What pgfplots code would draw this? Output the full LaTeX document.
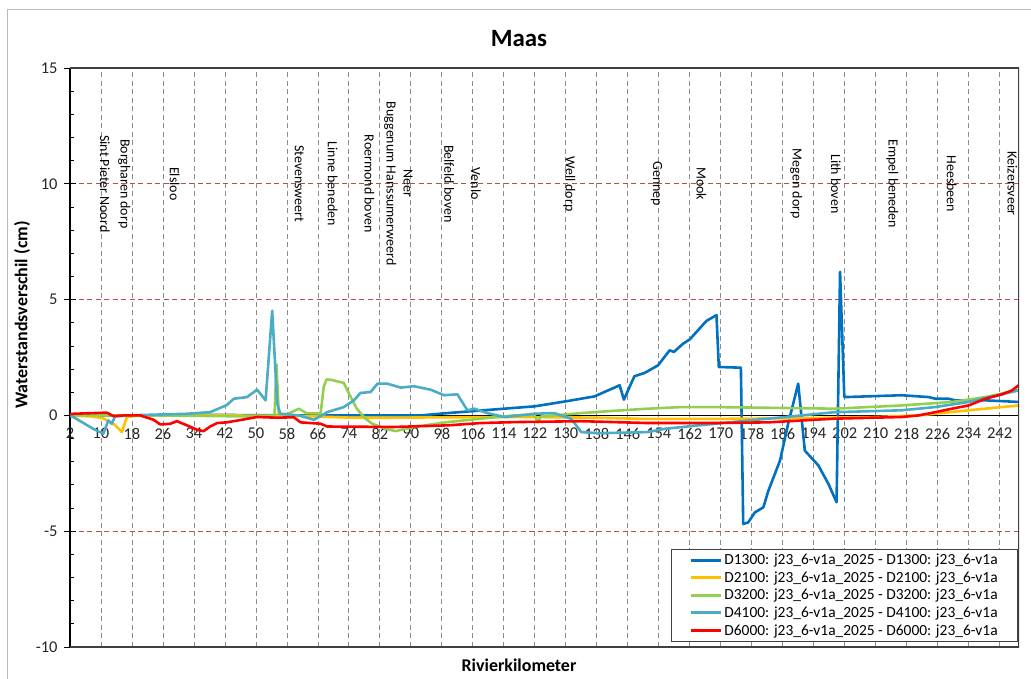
\documentclass[border=0pt]{standalone}
\usepackage{pgfplots}
\pgfplotsset{compat=1.18}
\usepackage{fontspec}
\setmainfont{Carlito}

\definecolor{cD1300}{HTML}{0070C0}
\definecolor{cD2100}{HTML}{FFC000}
\definecolor{cD3200}{HTML}{92D050}
\definecolor{cD4100}{HTML}{4BACC6}
\definecolor{cD6000}{HTML}{FF0000}
\definecolor{gridred}{HTML}{BE4B48}
\definecolor{gridgray}{HTML}{8C8C8C}
\definecolor{framegray}{HTML}{404040}

\newcommand{\locfont}{\fontsize{14}{16}\selectfont}

\begin{document}
\begin{tikzpicture}
\useasboundingbox (-70bp,-32bp) rectangle (961bp,647bp);
% chart border
\draw[gray!55, line width=0.8bp] (-63bp,-40bp) -- (-63bp,638bp) -- (970bp,638bp);
\begin{axis}[
  at={(0,0)}, anchor=south west,
  scale only axis, width=949bp, height=579bp,
  xmin=2, xmax=247, ymin=-10, ymax=15,
  axis x line=middle, axis y line=left,
  axis line style={-},
  x axis line style={black, line width=0.8bp},
  y axis line style={black, line width=1.2bp},
  hide obscured x ticks=false, hide obscured y ticks=false,
  xtick={2,10,...,242},
  ytick={-10,-5,...,15},
  minor y tick num=4,
  xtick style={draw=none},
  ytick style={black, line width=0.8bp},
  tick align=inside,
  major tick length=6bp, minor tick length=4bp,
  extra y ticks={-10,-5,...,15},
  extra y tick style={tick align=outside, grid=none, yticklabel={}},
  xmajorgrids, ymajorgrids,
  major x grid style={gridgray, line width=0.8bp, dash pattern=on 5bp off 3.5bp},
  major y grid style={gridred, line width=0.9bp, dash pattern=on 5bp off 3.5bp},
  /pgf/number format/assume math mode=true,
  tick label style={font=\fontsize{16.5}{19}\selectfont, text=black!85},
  xticklabel style={yshift=-9bp},
  yticklabel style={xshift=-9bp},
  legend style={at={(1,0)}, anchor=south east, xshift=-1bp, yshift=5bp,
    draw=black!75, line width=0.8bp, font=\fontsize{15.5}{19}\selectfont,
    inner xsep=18bp, inner ysep=3bp, row sep=1.5bp},
  legend cell align=left,
  legend image code/.code={\draw[#1, line width=3bp] (0bp,0bp) -- (30bp,0bp);},
  every axis plot/.append style={no markers, line width=2.6bp, line join=round},
]

\addplot[cD1300] coordinates {
(2,0) (20,0) (40,0.02) (60,0.0) (80,0.0) (92.6,0.0) (99.5,0.1) (106.4,0.19)
(114.1,0.29) (121.9,0.39) (130.1,0.61) (137.4,0.82) (143.9,1.30) (145.0,0.68)
(147.7,1.69) (150.3,1.83) (153.8,2.16) (156.8,2.81) (157.9,2.74) (160.3,3.10)
(162.0,3.28) (166.3,4.08) (168.9,4.33) (169.5,2.09) (175.2,2.06) (175.8,-4.69)
(177.1,-4.62) (178.8,-4.19) (181.0,-3.97) (182.3,-3.25) (185.3,-1.95) (187.4,-0.36)
(190.0,1.37) (191.7,-1.52) (195.2,-2.16) (197.8,-2.96) (199.9,-3.75) (200.8,6.2)
(201.9,0.79) (216.7,0.87) (223.7,0.79) (225.4,0.72) (228.8,0.72) (230.5,0.65)
(238.3,0.65) (246.9,0.58)
};
\addlegendentry{D1300: j23\_6-v1a\_2025 - D1300: j23\_6-v1a}

\addplot[cD2100] coordinates {
(2,0) (8,-0.05) (10.6,-0.13) (13.5,-0.4) (15.4,-0.72) (16.7,-0.07) (20,0) (40,0)
(60,-0.02) (66,-0.05) (75,-0.1) (85,-0.1) (100,-0.08) (120,-0.07) (138,-0.1)
(150,-0.15) (170,-0.15) (190,-0.12) (210,-0.07) (221.1,0.0) (234,0.22) (246.9,0.43)
};
\addlegendentry{D2100: j23\_6-v1a\_2025 - D2100: j23\_6-v1a}

\addplot[cD3200] coordinates {
(2,0) (20,0) (35,-0.02) (50,-0.05) (54.8,-0.03) (55.3,2.2) (55.9,0.05) (58,0.05)
(61.1,0.29) (63,0.1) (66.7,0.08) (67.5,1.23) (68.2,1.55) (69.3,1.54) (72.7,1.40)
(73.6,1.08) (76,0.3) (78,-0.1) (80,-0.36) (84,-0.6) (86,-0.68) (90.8,-0.5)
(99.5,-0.29) (108.1,-0.14) (116.7,0) (121.9,0.02) (122.7,-0.3) (123.6,-0.05)
(134,0.1) (142.6,0.2) (151.2,0.29) (159.8,0.36) (168.4,0.36) (199.5,0.29)
(216.7,0.43) (229.7,0.58) (238.3,0.79) (246.9,1.1)
};
\addlegendentry{D3200: j23\_6-v1a\_2025 - D3200: j23\_6-v1a}

\addplot[cD4100] coordinates {
(2,0) (2.85,-0.07) (8.0,-0.58) (10.6,-0.79) (11.9,-0.22) (12.8,-0.36) (13.6,-0.05)
(16.7,0) (32.2,0.07) (38.2,0.14) (42.5,0.45) (44.3,0.72) (47.7,0.79) (50.3,1.11)
(52.5,0.65) (54.2,4.52) (55.5,0.5) (56.3,0.07) (61,0) (65.0,-0.19) (68.4,0.14)
(72.7,0.36) (75.3,0.65) (77.0,0.97) (79.6,1.01) (81.4,1.37) (83.9,1.37) (87.4,1.2)
(90.8,1.26) (95.1,1.11) (98.6,0.87) (102.0,0.91) (104.6,0.22) (106.4,0.29)
(109.8,0.1) (114.1,-0.07) (121.9,0.07) (127.0,0.1) (131.4,-0.15) (134.0,-0.72)
(138.3,-0.77) (151.2,-0.72) (155.5,-0.58) (168.4,-0.36) (182.3,-0.14) (199.5,0.14)
(216.7,0.22) (225.4,0.36) (234.0,0.58) (246.9,1.08)
};
\addlegendentry{D4100: j23\_6-v1a\_2025 - D4100: j23\_6-v1a}

\addplot[cD6000] coordinates {
(2,0.05) (2.85,0.07) (11.5,0.12) (13.2,-0.03) (16,0) (20.1,0) (23.6,-0.19)
(25.3,-0.39) (27.9,-0.36) (29.6,-0.25) (32.2,-0.43) (34.8,-0.62) (36.5,-0.68)
(38.2,-0.48) (40.0,-0.33) (42.5,-0.3) (46.0,-0.2) (50.3,-0.07) (55.5,-0.1)
(59.8,-0.08) (61.5,-0.3) (66.7,-0.36) (68.4,-0.48) (85.6,-0.5) (99.5,-0.43)
(108.1,-0.33) (116.7,-0.29) (134,-0.25) (151.2,-0.33) (168.4,-0.33) (182.3,-0.3)
(199.5,-0.14) (216.7,-0.07) (221.1,0.0) (225.4,0.14) (229.7,0.29) (234.0,0.43)
(238.3,0.72) (242.6,0.91) (245.2,1.08) (246.9,1.3)
};
\addlegendentry{D6000: j23\_6-v1a\_2025 - D6000: j23\_6-v1a}

% plot area frame
\draw[framegray, line width=1.2bp] (rel axis cs:0,1) -- (rel axis cs:1,1) -- (rel axis cs:1,0) -- (rel axis cs:0,0);

% measuring locations along the river
\node[rotate=-90, font=\locfont] at (axis cs:11,10) {Sint Pieter Noord};
\node[rotate=-90, font=\locfont] at (axis cs:16,10) {Borgharen dorp};
\node[rotate=-90, font=\locfont] at (axis cs:29,10) {Elsloo};
\node[rotate=-90, font=\locfont] at (axis cs:61.2,10) {Stevensweert};
\node[rotate=-90, font=\locfont] at (axis cs:69.8,10) {Linne beneden};
\node[rotate=-90, font=\locfont] at (axis cs:79.3,10) {Roermond boven};
\node[rotate=-90, font=\locfont] at (axis cs:84.7,10) {Buggenum Hanssumerweerd};
\node[rotate=-90, font=\locfont] at (axis cs:89.3,10) {Neer};
\node[rotate=-90, font=\locfont] at (axis cs:99.9,10) {Belfeld boven};
\node[rotate=-90, font=\locfont] at (axis cs:106.8,10) {Venlo};
\node[rotate=-90, font=\locfont] at (axis cs:130.9,10) {Well dorp};
\node[rotate=-90, font=\locfont] at (axis cs:153.4,10) {Gennep};
\node[rotate=-90, font=\locfont] at (axis cs:165,10) {Mook};
\node[rotate=-90, font=\locfont] at (axis cs:189.5,10) {Megen dorp};
\node[rotate=-90, font=\locfont] at (axis cs:199.7,10) {Lith boven};
\node[rotate=-90, font=\locfont] at (axis cs:214.3,10) {Empel beneden};
\node[rotate=-90, font=\locfont] at (axis cs:229.6,10) {Heesbeen};
\node[rotate=-90, font=\locfont] at (axis cs:245.3,10) {Keizersveer};
\end{axis}

% titles
\node[font=\bfseries\fontsize{25}{30}\selectfont, anchor=base] at (449bp,600bp) {Maas};
\node[font=\bfseries\fontsize{18}{22}\selectfont, rotate=90] at (-48bp,332bp) {Waterstandsverschil (cm)};
\node[font=\bfseries\fontsize{18}{22}\selectfont] at (449bp,-18bp) {Rivierkilometer};
\end{tikzpicture}
\end{document}
